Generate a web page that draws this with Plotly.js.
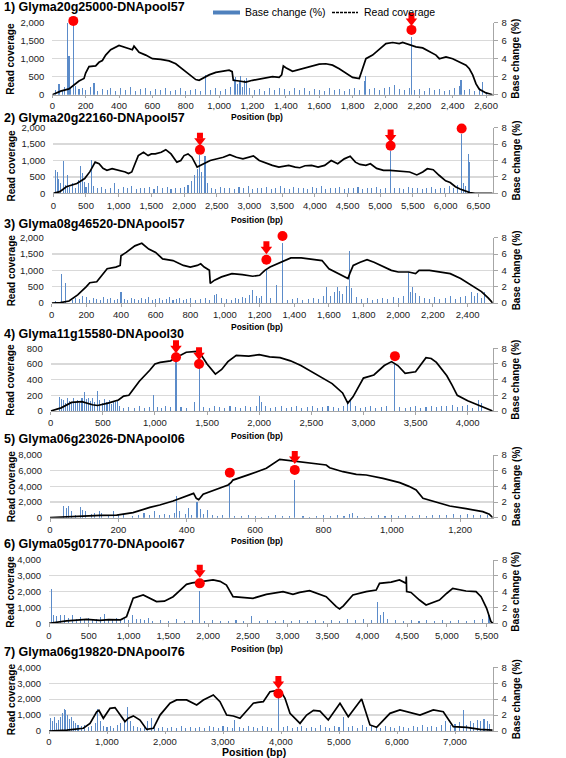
<!DOCTYPE html>
<html><head><meta charset="utf-8">
<script src="https://cdn.plot.ly/plotly-3.0.1.min.js"></script>
<style>html,body{margin:0;padding:0;background:#fff}#chart{width:566px;height:758px}</style>
</head><body><div id="chart"></div>
<script>
// ---------------- DATA ----------------
const titles = ["1) Glyma20g25000-DNApool57","2) Glyma20g22160-DNApool57","3) Glyma08g46520-DNApool57","4) Glyma11g15580-DNApool30","5) Glyma06g23026-DNApool06","6) Glyma05g01770-DNApool67","7) Glyma06g19820-DNApool76"];
const legendLabels = ["Base change (%)","Read coverage"];
const xTitle = "Position (bp)", yTitleL = "Read coverage", yTitleR = "Base change (%)";

// Read coverage (left axis)
const covX1 = [0,50,100,130,160,190,200,220,260,280,300,320,350,400,440,480,490,520,560,600,650,700,740,780,820,860,880,940,980,1020,1060,1078,1085,1120,1160,1200,1240,1280,1320,1360,1375,1385,1400,1440,1480,1520,1560,1600,1640,1680,1720,1760,1800,1840,1860,1880,1920,1960,2000,2040,2080,2100,2140,2180,2220,2260,2300,2320,2360,2400,2440,2480,2500,2520,2540,2560,2600,2640];
const covY1 = [0,100,160,280,380,450,600,780,800,900,950,1100,1250,1370,1300,1250,1350,1180,1100,1000,980,940,860,720,560,420,400,550,620,650,680,640,400,380,350,400,430,480,500,480,550,800,750,650,700,750,800,850,860,820,720,600,480,450,700,1000,1100,1250,1420,1450,1420,1450,1380,1330,1300,1200,1100,1000,1050,1000,900,820,720,550,300,150,50,0];
const covX2 = [0,100,200,360,480,560,640,700,760,820,900,1000,1100,1150,1200,1250,1300,1380,1450,1500,1560,1650,1720,1800,1890,1950,2000,2060,2120,2200,2250,2300,2400,2500,2600,2700,2800,2900,3000,3060,3150,3260,3350,3450,3520,3600,3700,3770,3850,3950,4050,4150,4250,4350,4450,4540,4620,4690,4780,4850,4945,5050,5150,5300,5450,5560,5650,5720,5810,5900,6000,6070,6150,6220,6300,6370,6450,6720];
const covY2 = [0,50,200,300,450,660,950,900,760,700,750,700,650,600,650,900,1150,1250,1150,1200,1200,1250,1330,1200,950,1000,1150,1200,1100,800,860,900,1000,1050,1100,1180,1100,1050,1120,1140,1000,910,850,800,830,850,800,780,840,850,800,850,1000,900,1050,1130,950,880,850,900,760,700,700,680,650,560,650,750,720,550,380,330,200,130,60,20,0,0];
const covX3 = [0,50,100,150,200,220,260,290,320,370,395,400,430,480,520,560,600,640,700,760,800,840,860,880,910,915,940,980,1040,1100,1160,1200,1230,1260,1300,1340,1380,1440,1500,1560,1600,1660,1700,1710,1720,1740,1780,1820,1860,1900,1960,2000,2060,2100,2120,2180,2240,2300,2360,2420,2480,2520,2545];
const covY3 = [0,10,60,250,500,620,650,850,1050,1100,1150,1450,1550,1750,1830,1650,1550,1350,1300,1150,1100,1150,1200,1100,1000,600,700,800,900,870,820,850,1000,1100,1200,1300,1380,1380,1350,1300,1050,900,800,750,900,1150,1250,1330,1250,1150,1000,950,950,900,1000,1000,950,900,750,550,350,150,0];
const covX4 = [0,100,200,300,400,450,550,650,700,750,800,850,950,1000,1050,1150,1200,1300,1400,1450,1500,1580,1640,1700,1780,1900,2000,2100,2200,2300,2400,2500,2600,2700,2800,2850,2900,2950,3000,3100,3200,3270,3330,3400,3500,3600,3650,3700,3800,3850,3900,4000,4100,4200,4240];
const covY4 = [0,40,110,120,80,70,100,140,190,200,290,380,520,600,620,640,680,750,760,700,600,470,530,630,710,700,720,690,680,640,580,500,420,350,230,100,180,300,420,460,580,630,580,480,500,680,670,620,450,330,200,130,80,20,0];
const covX5 = [0,49,97,146,195,243,292,321,360,409,420,428,435,448,487,521,530,535,584,633,672,690,711,760,808,818,857,896,925,974,1023,1050,1071,1091,1120,1169,1217,1266,1285,1295];
const covY5 = [0,130,210,300,340,640,1320,1620,2130,2900,3100,2470,2300,3000,3600,4170,4500,4800,5530,6300,7450,7350,7230,7020,6720,6380,5870,5530,5450,5020,4470,4000,3530,2470,2100,1490,1150,770,450,0];
const covX6 = [0,222,473,640,750,849,900,975,1058,1184,1270,1351,1450,1560,1650,1728,1800,1895,2000,2062,2150,2230,2313,2400,2564,2731,2850,2941,3066,3150,3275,3400,3484,3610,3652,3700,3819,3986,4112,4154,4300,4405,4488,4490,4495,4550,4656,4739,4907,5000,5074,5241,5367,5430,5500,5555,5580];
const covY6 = [0,150,250,190,230,250,220,420,1580,1790,1600,1370,1400,1680,2100,2460,2550,2630,2700,2740,2650,2420,1680,1650,1580,1830,1900,2000,1830,1950,2060,1850,1680,1050,905,1100,1790,2000,2100,2525,2600,2740,2525,2950,2000,1950,1470,1160,1470,1900,2210,2040,2000,1680,950,100,0];
const covX7 = [0,305,592,707,822,860,937,1052,1138,1253,1310,1368,1454,1569,1684,1799,1914,2086,2201,2373,2546,2661,2833,2948,3063,3178,3293,3523,3580,3600,3695,3810,3983,4069,4155,4328,4442,4560,4672,4815,5017,5160,5390,5534,5649,5879,6051,6396,6626,6798,6971,7200,7431,7650];
const covY7 = [0,60,170,480,1210,1300,800,1420,1470,900,590,800,950,690,100,170,1000,1740,1950,1950,1630,1950,2260,1840,1000,940,800,1740,1800,1800,1840,2470,2580,2050,1110,480,1000,1300,1250,690,1740,900,2010,380,230,1110,1320,1000,1320,1210,270,230,100,60];

// Base change % (right axis)
const bcX1 = [20,40,60,75,92,100,110,126,140,160,180,200,230,250,270,300,330,350,380,410,440,470,500,530,560,590,620,650,680,710,740,770,800,830,860,890,920,950,980,1010,1040,1070,1090,1100,1110,1120,1130,1140,1150,1165,1180,1210,1240,1270,1300,1330,1360,1390,1420,1450,1480,1510,1540,1570,1600,1630,1660,1690,1720,1750,1780,1810,1840,1870,1880,1900,1930,1960,1990,2020,2050,2080,2110,2140,2153,2170,2200,2230,2260,2290,2320,2350,2380,2410,2440,2450,2470,2500,2530,2560,2580,2600];
const bcY1 = [0.5,1.2,0.4,0.9,8.0,4.3,0.8,7.9,1.0,0.6,0.8,0.5,0.9,1.3,0.4,0.6,0.5,0.8,0.4,0.7,0.5,0.9,0.4,0.6,0.8,0.4,0.6,0.5,0.7,0.4,0.5,0.8,0.4,0.5,0.6,0.4,2.2,0.5,0.7,0.4,0.6,0.9,1.8,2.0,1.2,1.5,2.1,0.9,1.6,1.9,0.8,0.5,0.6,0.4,0.7,0.5,0.8,0.6,0.4,0.7,0.5,0.8,0.4,0.6,0.5,0.4,0.7,0.5,0.6,0.4,0.6,0.8,0.5,1.5,2.1,0.6,0.8,0.5,0.7,0.9,1.1,0.6,0.5,0.7,6.4,0.5,0.6,0.4,0.7,0.5,0.6,0.4,0.5,0.7,1.0,1.6,0.5,0.6,0.4,0.8,1.4,0.3];
const bcX2 = [30,60,80,110,150,180,210,250,300,340,380,410,440,470,500,540,580,620,680,740,800,870,940,1000,1070,1140,1200,1270,1340,1400,1470,1540,1600,1670,1740,1800,1870,1940,2000,2060,2120,2160,2200,2243,2270,2320,2360,2420,2480,2550,2620,2700,2770,2840,2910,2980,3050,3120,3190,3260,3330,3400,3470,3540,3610,3680,3750,3820,3890,3960,4030,4100,4170,4240,4310,4380,4450,4520,4590,4660,4730,4800,4870,4940,5010,5080,5159,5220,5290,5360,5430,5500,5570,5640,5710,5780,5850,5920,5990,6060,6120,6180,6245,6280,6310,6345,6360];
const bcY2 = [2.9,2.6,1.8,1.2,3.9,1.0,2.2,0.8,1.3,0.7,1.6,3.3,2.5,1.4,0.8,1.2,4.1,0.9,0.6,0.8,0.5,0.7,1.2,0.5,0.8,0.6,0.9,0.5,0.7,0.6,0.8,0.5,0.9,0.6,0.8,0.5,0.7,0.6,0.8,1.0,1.5,2.2,3.0,4.7,2.6,4.6,1.2,0.7,0.5,0.8,0.6,0.7,0.5,0.8,0.6,0.9,0.5,0.7,0.6,0.8,0.5,0.7,0.9,0.6,0.5,0.8,0.6,0.7,0.5,0.8,0.6,0.9,0.5,0.7,0.6,0.8,0.5,0.7,0.6,0.8,0.5,0.7,0.6,0.8,0.5,0.7,5.1,0.6,0.7,0.5,0.8,0.6,0.7,0.5,0.6,0.8,0.5,0.7,0.6,0.9,0.6,1.0,7.2,1.2,0.9,4.8,3.8];
const bcX3 = [20,55,80,120,140,160,180,200,220,240,260,280,300,320,340,360,380,400,420,440,460,480,500,520,540,560,580,600,620,640,660,680,700,720,740,760,780,800,830,860,890,910,940,950,980,1010,1040,1060,1080,1100,1120,1140,1160,1180,1200,1210,1239,1260,1300,1332,1360,1390,1420,1450,1480,1510,1540,1570,1585,1610,1630,1650,1660,1680,1700,1720,1730,1760,1790,1820,1850,1880,1910,1940,1970,2000,2030,2060,2070,2080,2100,2120,2150,2180,2210,2240,2270,2300,2330,2360,2390,2420,2440,2460,2480,2500];
const bcY3 = [0.2,3.5,2.4,0.4,0.6,0.5,0.8,0.7,0.4,0.6,0.5,0.4,0.7,0.5,0.6,0.4,0.5,1.3,0.5,0.4,0.6,0.5,0.4,0.6,0.5,0.7,0.4,0.5,0.6,0.4,0.5,0.7,0.4,0.5,0.6,0.4,0.5,0.6,0.4,0.5,0.6,0.4,1.0,1.1,0.6,0.5,0.4,0.6,0.5,0.7,0.6,1.0,1.6,0.8,0.6,0.9,4.2,0.6,2.2,7.4,0.4,0.5,0.6,0.4,0.5,0.6,0.5,0.8,1.9,0.9,1.4,2.0,1.5,1.1,2.1,6.4,1.8,0.7,0.5,0.6,0.4,0.5,0.6,0.5,0.7,0.6,0.9,3.8,1.4,2.0,1.2,0.8,0.6,0.5,0.7,0.5,0.6,0.8,0.5,0.7,0.9,1.3,0.8,1.2,0.6,1.3];
const bcX4 = [80,100,120,140,160,180,200,220,240,260,280,300,320,340,360,380,400,420,450,470,500,520,540,560,580,600,620,640,660,700,750,800,850,900,950,990,1020,1060,1100,1150,1202,1250,1300,1380,1423,1470,1520,1570,1620,1670,1720,1770,1820,1870,1920,1970,2000,2020,2060,2110,2160,2210,2260,2310,2360,2410,2460,2510,2560,2610,2660,2710,2760,2810,2850,2880,2920,2970,3020,3070,3120,3170,3220,3302,3350,3400,3450,3500,3550,3600,3650,3700,3750,3800,3850,3900,3950,4000,4050,4100,4130];
const bcY4 = [1.8,1.5,1.4,1.0,1.7,1.3,1.1,1.6,1.2,1.4,1.0,1.6,2.4,1.5,1.7,1.3,1.6,1.2,2.5,1.4,1.0,1.5,1.1,1.4,0.9,1.3,1.1,1.4,0.7,0.4,0.5,0.4,0.6,0.4,0.5,2.1,0.5,0.4,0.6,0.5,6.3,0.5,0.4,1.1,5.45,0.5,0.4,0.6,0.5,0.4,0.6,0.5,0.4,0.6,0.5,0.7,1.9,1.2,0.6,0.4,0.5,0.6,0.4,0.5,0.6,0.4,0.5,0.6,0.4,0.5,0.6,0.5,0.4,0.6,1.0,1.5,0.6,0.4,0.5,0.6,0.4,0.5,0.6,6.1,0.5,0.4,0.5,0.6,0.4,0.5,0.6,0.5,0.6,0.7,0.8,0.5,0.7,0.8,0.4,1.4,1.0];
const bcX5 = [40,48,55,62,75,90,95,105,120,130,145,150,170,185,200,215,240,260,275,290,305,320,335,350,365,370,380,395,405,415,430,440,450,460,475,490,505,526,540,560,580,600,620,640,660,680,700,716,740,760,780,800,820,840,860,875,885,900,920,940,960,980,1000,1020,1040,1060,1080,1100,1120,1140,1160,1180,1200,1220,1240,1260,1280];
const bcY5 = [1.5,1.3,1.5,0.8,0.4,1.4,1.0,0.8,0.5,0.6,0.8,0.6,0.3,0.9,0.4,0.3,0.2,0.4,0.6,0.3,0.8,0.4,0.5,0.3,0.6,2.8,0.9,0.5,1.2,0.4,2.0,1.1,0.5,1.0,0.3,0.2,0.3,4.2,0.2,0.2,0.3,0.2,0.1,0.2,0.3,0.2,0.2,4.8,0.2,0.1,0.2,0.3,0.2,0.3,0.2,0.5,0.6,0.2,0.1,0.2,0.3,0.2,0.3,0.2,0.3,0.2,0.3,0.2,0.3,0.4,0.3,0.5,0.4,0.5,0.3,0.4,0.3];
const bcX6 = [30,60,100,150,200,250,300,350,400,450,500,550,600,650,700,750,800,850,900,950,1000,1050,1100,1150,1200,1250,1300,1400,1500,1600,1700,1800,1895,1950,2050,2150,2250,2350,2450,2550,2650,2750,2850,2950,3050,3150,3250,3350,3450,3550,3650,3750,3850,3950,4050,4130,4170,4200,4250,4350,4450,4550,4650,4750,4850,4950,5050,5150,5250,5350,5450,5530];
const bcY6 = [4.3,1.1,0.9,1.0,1.1,0.7,1.0,0.6,0.8,0.5,0.7,0.6,0.5,0.8,1.2,0.6,0.5,0.7,0.4,0.6,0.4,1.1,0.5,0.6,0.4,0.7,0.3,0.4,0.3,0.5,0.3,0.4,4.1,0.3,0.4,0.3,0.3,0.4,0.3,0.9,0.3,0.4,0.3,0.4,0.3,0.4,0.3,0.4,0.3,0.4,0.3,0.5,0.4,0.6,0.4,2.7,1.0,1.4,0.5,0.4,0.3,0.4,0.3,0.4,0.3,0.4,0.3,0.4,0.3,0.4,0.5,1.1];
const bcX7 = [30,60,100,130,160,200,230,260,290,320,350,380,420,460,500,560,620,680,740,800,840,880,940,1000,1060,1120,1180,1240,1300,1350,1400,1460,1520,1580,1640,1700,1760,1820,1880,1960,2040,2120,2200,2280,2360,2440,2520,2600,2680,2760,2840,2920,3000,3080,3160,3200,3280,3360,3440,3520,3600,3680,3760,3840,3955,4040,4120,4200,4280,4360,4440,4520,4600,4680,4760,4840,4920,5000,5080,5160,5240,5320,5400,5480,5560,5640,5720,5800,5880,5960,6040,6120,6200,6280,6360,6440,6520,6600,6680,6760,6840,6920,7000,7080,7150,7200,7260,7320,7380,7440,7500,7560,7600];
const bcY7 = [1.6,1.2,1.7,1.0,1.4,1.8,2.2,2.8,2.6,2.0,1.5,1.8,1.3,1.0,0.8,0.6,0.8,0.5,0.6,1.0,2.7,1.2,0.6,0.5,0.6,0.4,0.7,1.0,1.4,3.0,1.2,0.6,0.5,0.4,0.6,1.2,1.6,0.5,0.4,0.5,0.4,0.5,0.4,0.6,0.4,0.5,0.4,0.5,0.4,0.6,0.5,0.4,0.6,0.5,0.4,1.4,0.5,0.4,0.6,0.5,0.4,0.6,0.5,0.4,4.3,0.5,0.6,0.4,0.5,0.6,0.4,0.5,0.4,0.8,0.5,0.4,0.6,0.5,1.8,0.5,0.6,0.4,0.8,0.5,0.6,0.5,0.4,0.6,0.5,0.4,0.6,0.5,0.4,0.6,0.5,0.7,0.5,0.6,0.5,0.8,1.2,0.7,0.9,1.1,2.6,0.8,1.3,1.0,1.4,1.2,1.5,1.3,0.9];

// Red circles (sites) and red arrows, in base-change units
const circX = [[126,2153],[2243,5159,6245],[1239,1332],[1202,1423,3302],[526,716],[1895],[3955]];
const circY = [[8.2,7.2],[5.3,5.8,7.9],[5.3,8.2],[6.85,6.0,7.0],[5.75,6.1],[5.05],[4.7]];
const arrX  = [[2153],[2243,5159],[1239],[1202,1423],[716],[1895],[3955]];
const arrY  = [[8.2],[6.4,6.8],[6.6],[8.0,7.1],[7.5],[6.4],[5.9]];

// Axis settings
const xMax = [2640,6720,2545,4240,1295,5580,7650];
const xDtick = [200,500,200,500,200,500,1000];
const covMax = [2000,2000,2000,800,8000,4000,4000];
const covDtick = [500,500,500,200,2000,1000,1000];
const bcMax = 8, bcDtick = 2;

const covX=[covX1,covX2,covX3,covX4,covX5,covX6,covX7];
const covY=[covY1,covY2,covY3,covY4,covY5,covY6,covY7];
const bcX=[bcX1,bcX2,bcX3,bcX4,bcX5,bcX6,bcX7];
const bcY=[bcY1,bcY2,bcY3,bcY4,bcY5,bcY6,bcY7];

// ---------------- LAYOUT GEOMETRY (px) ----------------
const W=566,H=758;
const geo = [
 {x0:52.3,x1:492.7,y0:22.7,y1:94.7,t:7,xt:116.5,lt:0},
 {x0:53.3,x1:492.7,y0:127.7,y1:193.3,t:117.5,xt:220,lt:5},
 {x0:51.7,x1:492.7,y0:237.7,y1:303,t:224,xt:327,lt:0},
 {x0:50.7,x1:492.7,y0:348.3,y1:411,t:333.5,xt:436,lt:0},
 {x0:50,x1:492.7,y0:455,y1:517.7,t:439,xt:541,lt:0},
 {x0:49,x1:493,y0:560,y1:623.3,t:544,xt:649,lt:0},
 {x0:49,x1:492.7,y0:667.3,y1:731,t:652,xt:751.5,lt:0}
];
const FONT = "Liberation Sans, Arial, sans-serif";
const tickFont = {family:FONT,size:9.5,color:'#222'};
const RED = '#ff0000', BAR = '#5b8bc9', AXC = '#a6a6a6', GRID = '#d9d9d9';
const px = v=>v/W, py = v=>1-v/H;
const EXTRA = 20; // px of headroom for the red markers above the plot

const data=[], layout={width:W,height:H,margin:{l:0,r:0,t:0,b:0},paper_bgcolor:'#fff',plot_bgcolor:'rgba(0,0,0,0)',showlegend:false,annotations:[],shapes:[],bargap:0};

for(let i=0;i<7;i++){
  const n=i+1, g=geo[i];
  const xid='x'+n, base=(n===1?'y':'y'+n), cov='y'+(n+7), mk='y'+(n+14);
  const xk='xaxis'+n, bk=(n===1?'yaxis':'yaxis'+n), ck='yaxis'+(n+7), mkk='yaxis'+(n+14);
  const hpx=g.y1-g.y0, unitPx=hpx/bcMax;
  layout[xk]={domain:[px(g.x0),px(g.x1)],anchor:base,range:[0,xMax[i]],dtick:xDtick[i],tick0:0,tickformat:',d',
    showline:true,linecolor:AXC,linewidth:1,ticks:'outside',ticklen:(n===1||n===7?2:3),tickcolor:AXC,showgrid:false,zeroline:false,tickfont:tickFont,fixedrange:true};
  layout[bk]={domain:[py(g.y1),py(g.y0)],anchor:xid,side:'right',range:[0,bcMax],dtick:bcDtick,tick0:0,
    showgrid:true,gridcolor:GRID,gridwidth:1.3,showline:true,linecolor:AXC,ticks:'outside',ticklen:4,tickcolor:AXC,zeroline:false,tickfont:tickFont,ticklabelstandoff:2,fixedrange:true};
  layout[ck]={overlaying:base,anchor:xid,side:'left',range:[0,covMax[i]],dtick:covDtick[i],tick0:0,tickformat:',d',
    showgrid:false,zeroline:false,showline:false,ticks:'',tickfont:tickFont,ticklabelstandoff:7,fixedrange:true};
  // independent marker axis, same scale as base-change, taller domain so markers above the top are not clipped
  layout[mkk]={domain:[py(g.y1),py(g.y0-EXTRA)],anchor:xid,range:[0,bcMax*(hpx+EXTRA)/hpx],visible:false,showgrid:false,zeroline:false,fixedrange:true};

  data.push({type:'bar',x:bcX[i],y:bcY[i],xaxis:xid,yaxis:base,width:xMax[i]/420,marker:{color:BAR,line:{width:0}},hoverinfo:'skip'});
  data.push({type:'scatter',mode:'lines',x:covX[i],y:covY[i],xaxis:xid,yaxis:cov,line:{color:'#000',width:1.7},hoverinfo:'skip'});
  const ay=arrY[i];
  data.push({type:'scatter',mode:'markers',x:arrX[i],y:ay,xaxis:xid,yaxis:mk,marker:{symbol:'triangle-down',size:10,color:RED,line:{width:0}},hoverinfo:'skip'});
  data.push({type:'scatter',mode:'markers',x:arrX[i],y:ay.map(v=>v+5/unitPx),xaxis:xid,yaxis:mk,marker:{symbol:'square',size:6,color:RED,line:{width:0}},hoverinfo:'skip'});
  data.push({type:'scatter',mode:'markers',x:circX[i],y:circY[i],xaxis:xid,yaxis:mk,marker:{symbol:'circle',size:10,color:RED,line:{width:0}},hoverinfo:'skip'});

  const A=layout.annotations;
  A.push({xref:'paper',yref:'paper',x:px(2),y:py(g.t),xanchor:'left',yanchor:'middle',showarrow:false,text:'<b>'+titles[i]+'</b>',font:{family:FONT,size:12.5,color:'#000'}});
  A.push({xref:'paper',yref:'paper',x:px(11),y:py((g.y0+g.y1)/2+g.lt),xanchor:'center',yanchor:'middle',textangle:-90,showarrow:false,text:'<b>'+yTitleL+'</b>',font:{family:FONT,size:10,color:'#000'}});
  A.push({xref:'paper',yref:'paper',x:px(516),y:py((g.y0+g.y1)/2),xanchor:'center',yanchor:'middle',textangle:-90,showarrow:false,text:'<b>'+yTitleR+'</b>',font:{family:FONT,size:10,color:'#000'}});
  A.push({xref:'paper',yref:'paper',x:px(n===7?254:257),y:py(g.xt),xanchor:'center',yanchor:'middle',showarrow:false,text:'<b>'+xTitle+'</b>',font:{family:FONT,size:(n===7?10.5:8.5),color:'#000'}});
}
// Legend (top)
layout.shapes.push({type:'rect',xref:'paper',yref:'paper',x0:px(213),x1:px(240),y0:py(14.5),y1:py(10.5),fillcolor:'#4f81bd',line:{width:0}});
layout.shapes.push({type:'line',xref:'paper',yref:'paper',x0:px(332),x1:px(358),y0:py(12.5),y1:py(12.5),line:{color:'#000',width:1.3,dash:'3px,1px'}});
layout.annotations.push({xref:'paper',yref:'paper',x:px(243),y:py(12.5),xanchor:'left',yanchor:'middle',showarrow:false,text:legendLabels[0],font:{family:FONT,size:10.5,color:'#000'}});
layout.annotations.push({xref:'paper',yref:'paper',x:px(362),y:py(12.5),xanchor:'left',yanchor:'middle',showarrow:false,text:legendLabels[1],font:{family:FONT,size:10.5,color:'#000'}});

Plotly.newPlot('chart',data,layout,{staticPlot:true,displayModeBar:false});
</script></body></html>
